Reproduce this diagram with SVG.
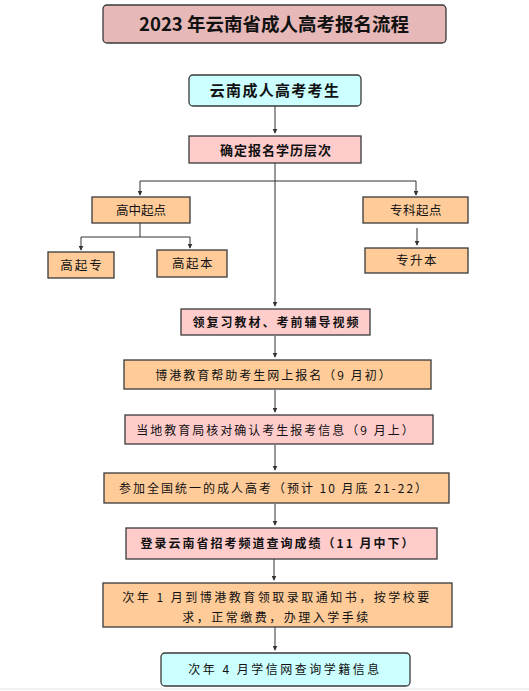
<svg xmlns="http://www.w3.org/2000/svg" width="529" height="691" viewBox="0 0 529 691">
<defs>
<style>
.bx{stroke:#3a3a3a;stroke-width:1.3}
.pk{fill:#ffcccc}
.or{fill:#ffcc99}
.cy{fill:#ccffff}
.t{font-family:"Noto Sans CJK SC","Liberation Sans",sans-serif;fill:#111;text-anchor:middle}
.b{font-weight:bold}
.c{fill:none;stroke:#333;stroke-width:1}
</style>
<marker id="ah" viewBox="0 0 8 8" refX="7" refY="4" markerWidth="5" markerHeight="5" orient="auto" markerUnits="userSpaceOnUse">
<path d="M0,0 L8,4 L0,8 z" fill="#333"/>
</marker>
</defs>
<rect width="529" height="691" fill="#fff"/>
<line x1="0" y1="689" x2="529" y2="689" stroke="#e0e0e0" stroke-width="1"/>

<g id="connectors">
<path class="c" d="M275,106 V133" marker-end="url(#ah)"/>
<path class="c" d="M275,163 V306" marker-end="url(#ah)"/>
<path class="c" d="M275,181 H140 V195" marker-end="url(#ah)"/>
<path class="c" d="M275,181 H416 V195" marker-end="url(#ah)"/>
<path class="c" d="M140,223 V237 H81 V250" marker-end="url(#ah)"/>
<path class="c" d="M140,237 H190 V248" marker-end="url(#ah)"/>
<path class="c" d="M417,228 V245" stroke="#666" stroke-width="1.6" marker-end="url(#ah)"/>
<path class="c" d="M275,336 V357" marker-end="url(#ah)"/>
<path class="c" d="M275,390 V412" marker-end="url(#ah)"/>
<path class="c" d="M275,445 V470" marker-end="url(#ah)"/>
<path class="c" d="M275,504 V525" marker-end="url(#ah)"/>
<path class="c" d="M274,559 V580" marker-end="url(#ah)"/>
<path class="c" d="M275,627 V650" marker-end="url(#ah)"/>
</g>

<g id="title">
<rect class="bx" x="103" y="5" width="343" height="38" rx="4" fill="#e6b8b7"/>
<text class="t b" x="274" y="31" font-size="18.5">2023 年云南省成人高考报名流程</text>
</g>

<g id="n1">
<rect class="bx cy" x="189" y="75" width="172" height="31" rx="4"/>
<text class="t b" x="275" y="96" font-size="15" letter-spacing="1.3">云南成人高考考生</text>
</g>

<g id="n2">
<rect class="bx pk" x="189" y="136" width="172" height="27"/>
<text class="t b" x="276" y="154.5" font-size="13" letter-spacing="1">确定报名学历层次</text>
</g>

<g id="n3">
<rect class="bx or" x="92" y="197" width="98" height="26"/>
<text class="t" x="141" y="214.5" font-size="12.5">高中起点</text>
</g>

<g id="n4">
<rect class="bx or" x="363" y="197" width="105" height="26"/>
<text class="t" x="416" y="214.5" font-size="12.5" letter-spacing="0.5">专科起点</text>
</g>

<g id="n5">
<rect class="bx or" x="48" y="252" width="66" height="26"/>
<text class="t" x="82" y="269.5" font-size="12.5" letter-spacing="2">高起专</text>
</g>

<g id="n6">
<rect class="bx or" x="157" y="250" width="70" height="27"/>
<text class="t" x="193" y="268" font-size="12.5" letter-spacing="1.5">高起本</text>
</g>

<g id="n7">
<rect class="bx or" x="365" y="248" width="103" height="25"/>
<text class="t" x="417" y="265" font-size="12.5" letter-spacing="1.5">专升本</text>
</g>

<g id="n8">
<rect class="bx pk" x="181" y="309" width="189" height="26"/>
<text class="t b" x="276.5" y="326.5" font-size="12" letter-spacing="2">领复习教材、考前辅导视频</text>
</g>

<g id="n9">
<rect class="bx or" x="124" y="360" width="307" height="29"/>
<text class="t" x="274" y="379.5" font-size="12" letter-spacing="2">博港教育帮助考生网上报名（9 月初）</text>
</g>

<g id="n10">
<rect class="bx pk" x="125" y="415" width="308" height="29"/>
<text class="t" x="276" y="434.5" font-size="12" letter-spacing="2">当地教育局核对确认考生报考信息（9 月上）</text>
</g>

<g id="n11">
<rect class="bx or" x="104" y="473" width="345" height="30"/>
<text class="t" x="274" y="492.5" font-size="12" letter-spacing="2">参加全国统一的成人高考（预计 10 月底 21-22）</text>
</g>

<g id="n12">
<rect class="bx pk" x="126" y="528" width="311" height="31"/>
<text class="t b" x="278" y="548" font-size="12" letter-spacing="2">登录云南省招考频道查询成绩（11 月中下）</text>
</g>

<g id="n13">
<rect class="bx or" x="103" y="583" width="349" height="44"/>
<text class="t" x="277" y="601.5" font-size="12" letter-spacing="2.5">次年 1 月到博港教育领取录取通知书，按学校要</text>
<text class="t" x="276.5" y="621.5" font-size="12" letter-spacing="2.5">求，正常缴费，办理入学手续</text>
</g>

<g id="n14">
<rect class="bx cy" x="161" y="653" width="249" height="33" rx="4"/>
<text class="t" x="285" y="674" font-size="12" letter-spacing="2.5">次年 4 月学信网查询学籍信息</text>
</g>
</svg>
